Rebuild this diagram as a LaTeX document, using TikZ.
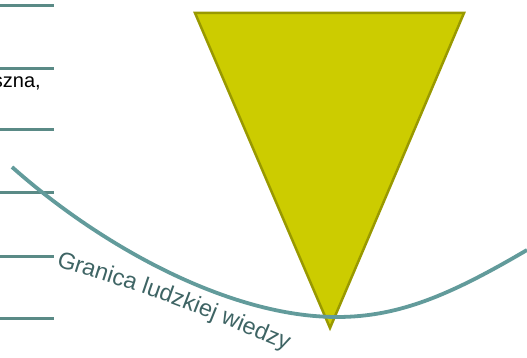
\documentclass[tikz,border=0pt]{standalone}
\usepackage{fontspec}
\setmainfont{Liberation Sans}
\usetikzlibrary{decorations.text}
\definecolor{linecol}{RGB}{90,138,134}
\definecolor{curvecol}{RGB}{98,155,155}
\definecolor{trifill}{RGB}{204,204,0}
\definecolor{tristroke}{RGB}{153,153,0}
\definecolor{textcol}{RGB}{62,100,100}
\begin{document}
\begin{tikzpicture}[x=1pt,y=-1pt,
  hline/.style={draw=linecol,line width=3pt},
  boundary/.style={draw=curvecol,line width=3.8pt},
  funnel/.style={fill=trifill,draw=tristroke,line width=2.5pt,line join=miter}]
\useasboundingbox (0,0) rectangle (527,358);
\foreach \y in {5.3,68.3,130,193,256,318} \draw[hline] (0,\y) -- (54,\y);
\node[anchor=base east, inner sep=0, font=\fontsize{20}{24}\selectfont] (frag) at (41,88) {szna,};
\draw[funnel] (195,13) -- (464,13) -- (330,328) -- cycle;
\draw[boundary] (12,167) .. controls (102,247) and (230,317) .. (337,317) .. controls (400,317) and (452,294) .. (527,250);
\path[decorate, decoration={text along path, text align=left, text={|\color{textcol}\fontsize{23.5}{28}\selectfont|Granica ludzkiej wiedzy}}] (56,266) .. controls (165,300) .. (296,354);
\end{tikzpicture}
\end{document}
